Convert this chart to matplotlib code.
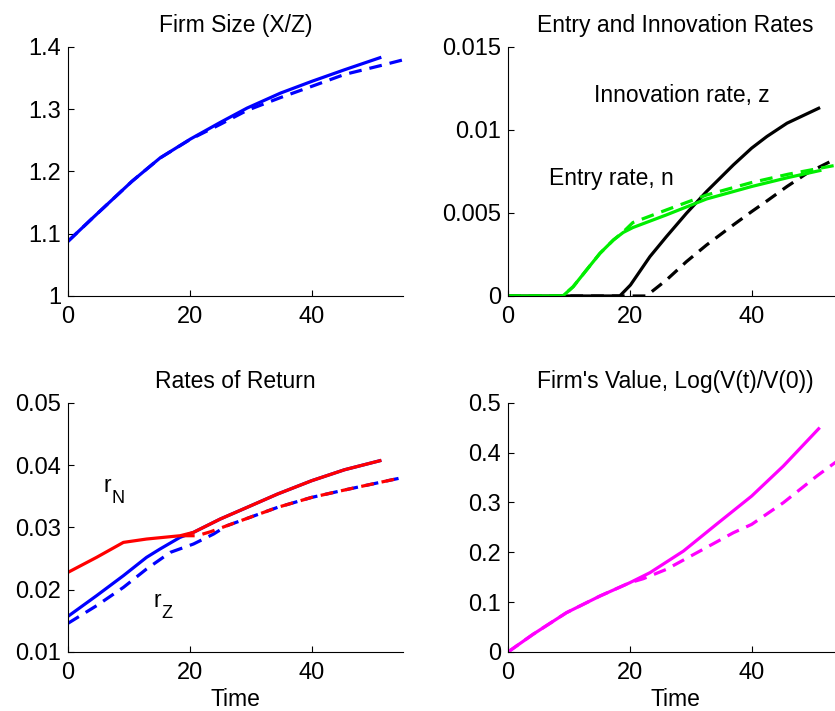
import matplotlib
matplotlib.use("Agg")
import matplotlib.pyplot as plt

plt.rcParams['font.family'] = ['Liberation Sans', 'DejaVu Sans']

# ---- data ----
# Firm size (X/Z)
t_size = [0, 4.1, 10.5, 15.1, 20.1, 25, 29.4, 34.9, 40, 45.4, 51.2]
size_solid = [1.0877, 1.1257, 1.184, 1.2214, 1.2519, 1.2786, 1.3016, 1.3257, 1.3444, 1.3631, 1.3824]
t_size_d = [0, 4.1, 10.5, 15.1, 20.1, 25, 29.4, 34.9, 40, 45.4, 51.2, 55]
size_dash = [1.0877, 1.1257, 1.184, 1.2214, 1.2515, 1.2755, 1.2979, 1.3185, 1.3364, 1.3556, 1.3695, 1.379]

# Entry and innovation rates
t_entry = [0, 9.0, 10.7, 12.9, 15.1, 17.3, 18.9, 20.5, 26.0, 32.6, 40, 46, 51.2]
entry_solid = [0, 0, 0.00056, 0.00157, 0.00257, 0.00337, 0.00382, 0.00412, 0.00488, 0.00584,
               0.00659, 0.00713, 0.00755]
t_entry_d = [0, 9.0, 10.7, 12.9, 15.1, 17.3, 18.9, 20.5, 26.0, 32.6, 40, 46, 51.2, 55]
entry_dash = [0, 0, 0.00056, 0.00157, 0.00257, 0.00337, 0.00385, 0.00442, 0.00518, 0.00608,
              0.00683, 0.00733, 0.00769, 0.00795]
t_innov = [0, 18.35, 20.1, 23.3, 26.0, 29.3, 32.6, 37.0, 40, 42.5, 45.8, 51.0]
innov_solid = [0, 0, 0.00066, 0.00237, 0.00357, 0.00498, 0.00629, 0.00789, 0.0089, 0.0096,
               0.0104, 0.0113]
t_innov_d = [0, 22.7, 26.0, 29.3, 32.6, 37.0, 40, 42.5, 45.8, 49.1, 52.9, 55]
innov_dash = [0, 0, 0.00096, 0.00207, 0.00307, 0.00428, 0.00508, 0.00572, 0.00659, 0.00739,
              0.00809, 0.0085]

# Rates of return
t_rz = [0, 4.7, 9.1, 12.9, 15.1, 18.4, 20.6, 25.0, 29.4, 34.4, 40, 45.4, 51.2]
rz_solid = [0.01572, 0.01904, 0.02225, 0.02519, 0.02652, 0.0284, 0.0292, 0.03134, 0.03321,
            0.03535, 0.03749, 0.03925, 0.0407]
t_rz_d = [0, 4.7, 9.1, 12.9, 16.8, 20.6, 23.9, 26.1, 29.4, 34.4, 40, 45.4, 51.2, 54.5]
rz_dash = [0.0146, 0.01743, 0.02037, 0.02332, 0.02599, 0.02733, 0.02893, 0.03027, 0.03144,
           0.03321, 0.03481, 0.0360, 0.03722, 0.03791]
t_rn = [0, 4.7, 9.1, 12.9, 18.4, 20.6, 25.0, 29.4, 34.4, 40, 45.4, 51.2]
rn_solid = [0.02278, 0.02519, 0.02759, 0.02813, 0.02866, 0.0292, 0.03134, 0.03321, 0.03535,
            0.03749, 0.03925, 0.0407]
t_rn_d = [18.7, 21.2, 23.4, 26.1, 29.4, 34.4, 40, 45.4, 51.2, 54.5]
rn_dash = [0.02866, 0.02866, 0.0293, 0.03027, 0.03144, 0.03321, 0.03481, 0.0360, 0.03722, 0.03791]

# Firm's value
t_val = [0, 4.1, 9.6, 15.1, 20, 23.3, 28.8, 34.2, 40, 45.2, 51.0]
val_solid = [0, 0.0354, 0.0789, 0.1123, 0.139, 0.1591, 0.2025, 0.256, 0.3128, 0.373, 0.4479]
t_val_d = [0, 4.1, 9.6, 15.1, 20, 22.2, 26.0, 31.5, 37.0, 40, 45.2, 50.7, 53.7, 55]
val_dash = [0, 0.0354, 0.0789, 0.1123, 0.139, 0.147, 0.1658, 0.2025, 0.2393, 0.256, 0.2995,
            0.353, 0.380, 0.39]

titles = ["Firm Size (X/Z)", "Entry and Innovation Rates",
          "Rates of Return", "Firm's Value, Log(V(t)/V(0))"]

fig = plt.figure(figsize=(8.35, 7.11), dpi=100)
w = 0.4012
h = 0.3505
ax1 = fig.add_axes([0.0814, 0.5837, w, h])
ax2 = fig.add_axes([0.6084, 0.5837, w, h])
ax3 = fig.add_axes([0.0814, 0.083, w, h])
ax4 = fig.add_axes([0.6084, 0.083, w, h])

lw = 2.3
dash = (4, 2.5)
ax1.plot(t_size_d, size_dash, color='blue', ls='--', lw=lw, dashes=dash)
ax1.plot(t_size, size_solid, color='blue', lw=lw)
ax1.set_ylim(1, 1.4)
ax1.set_yticks([1, 1.1, 1.2, 1.3, 1.4])
ax1.set_yticklabels(['1', '1.1', '1.2', '1.3', '1.4'])

ax2.plot(t_innov, innov_solid, color='black', lw=lw)
ax2.plot(t_innov_d, innov_dash, color='black', lw=lw, ls='--', dashes=dash)
ax2.plot(t_entry, entry_solid, color='#00ee00', lw=lw)
ax2.plot(t_entry_d, entry_dash, color='#00ee00', lw=lw, ls='--', dashes=dash)
ax2.set_ylim(0, 0.015)
ax2.set_yticks([0, 0.005, 0.01, 0.015])
ax2.set_yticklabels(['0', '0.005', '0.01', '0.015'])
ax2.text(14.1, 0.0117, "Innovation rate, z", fontsize=16.5)
ax2.text(6.7, 0.0067, "Entry rate, n", fontsize=16.5)

ax3.plot(t_rz, rz_solid, color='blue', lw=lw)
ax3.plot(t_rz_d, rz_dash, color='blue', lw=lw, ls='--', dashes=dash)
ax3.plot(t_rn, rn_solid, color='red', lw=lw)
ax3.plot(t_rn_d, rn_dash, color='red', lw=lw, ls='--', dashes=dash)
ax3.set_ylim(0.01, 0.05)
ax3.set_yticks([0.01, 0.02, 0.03, 0.04, 0.05])
ax3.set_yticklabels(['0.01', '0.02', '0.03', '0.04', '0.05'])
# r with subscripts, MATLAB style
ax3.text(5.9, 0.0356, "r", fontsize=16.5)
ax3.annotate("N", xy=(5.9, 0.0356), xytext=(5.5, -7.5), textcoords='offset points', fontsize=13)
ax3.text(14.0, 0.0172, "r", fontsize=16.5)
ax3.annotate("Z", xy=(14.0, 0.0172), xytext=(5.5, -7.5), textcoords='offset points', fontsize=13)

ax4.plot(t_val_d, val_dash, color='magenta', lw=lw, ls='--', dashes=dash)
ax4.plot(t_val, val_solid, color='magenta', lw=lw)
ax4.set_ylim(0, 0.5)
ax4.set_yticks([0, 0.1, 0.2, 0.3, 0.4, 0.5])
ax4.set_yticklabels(['0', '0.1', '0.2', '0.3', '0.4', '0.5'])

for ax, title in zip([ax1, ax2, ax3, ax4], titles):
    ax.set_xlim(0, 55)
    ax.set_xticks([0, 20, 40])
    ax.set_title(title, fontsize=16.5, pad=11)
    ax.spines['top'].set_visible(False)
    ax.spines['right'].set_visible(False)
    ax.spines['left'].set_linewidth(0.8)
    ax.spines['bottom'].set_linewidth(0.8)
    ax.tick_params(direction='in', length=4, width=0.8, labelsize=17)
    ax.tick_params(axis='x', pad=7)
    ax.tick_params(axis='y', pad=5)

ax3.set_xlabel("Time", fontsize=16.5, labelpad=3)
ax4.set_xlabel("Time", fontsize=16.5, labelpad=3)

fig.savefig("out.png", dpi=100)
